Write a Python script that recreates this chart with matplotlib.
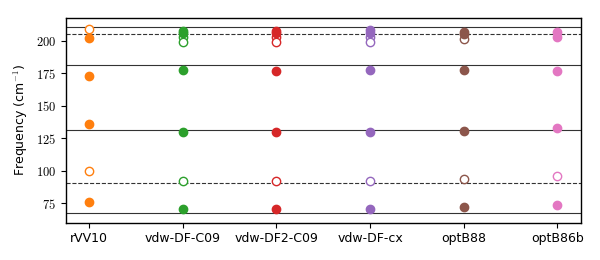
import matplotlib
matplotlib.use("Agg")
import matplotlib.pyplot as plt
from matplotlib.ticker import FuncFormatter

methods = ["rVV10", "vdw-DF-C09", "vdw-DF2-C09", "vdw-DF-cx", "optB88", "optB86b"]
colors = ["#ff7f0e", "#2ca02c", "#d62728", "#9467bd", "#8c564b", "#e377c2"]

filled_rVV10 = [202.3, 173.1, 135.7, 76.0]
filled_C09 = [207.7, 205.7, 177.2, 129.5, 70.9]
filled_DF2C09 = [207.7, 205.7, 176.9, 129.4, 70.9]
filled_cx = [208.0, 205.7, 177.2, 129.5, 70.9]
filled_optB88 = [206.9, 204.9, 177.5, 130.8, 72.0]
filled_optB86b = [207.0, 203.0, 176.7, 132.8, 73.5]

hollow_rVV10 = [208.8, 99.8]
hollow_C09 = [202.6, 198.8, 92.3]
hollow_DF2C09 = [202.6, 198.8, 92.3]
hollow_cx = [202.6, 199.2, 92.3]
hollow_optB88 = [201.3, 93.6]
hollow_optB86b = [96.2]

exp_solid = [210.3, 181.1, 131.3, 67.5]
exp_dashed = [205.4, 90.3]

filled = [filled_rVV10, filled_C09, filled_DF2C09, filled_cx, filled_optB88, filled_optB86b]
hollow = [hollow_rVV10, hollow_C09, hollow_DF2C09, hollow_cx, hollow_optB88, hollow_optB86b]

plt.rcParams['mathtext.fontset'] = 'cm'
fig = plt.figure(figsize=(6, 2.6), dpi=100)
ax = fig.add_axes([0.1095, 0.1435, 0.8585, 0.7885])

for y in exp_solid:
    ax.axhline(y, color="#333333", lw=0.8, zorder=1)
for y in exp_dashed:
    ax.axhline(y, color="#333333", lw=0.8, ls="--", zorder=1)

for i, (f, h, c) in enumerate(zip(filled, hollow, colors)):
    ax.plot([i] * len(h), h, "o", ms=6, mfc="white", mec=c, mew=1.0, ls="none", zorder=2)
    ax.plot([i] * len(f), f, "o", ms=6, color=c, ls="none", zorder=3)

ax.set_xlim(-0.25, 5.25)
ax.set_ylim(60, 217.7)
ax.set_xticks(range(len(methods)))
ax.set_xticklabels(methods, fontsize=9)
ax.set_yticks([75, 100, 125, 150, 175, 200])
ax.yaxis.set_major_formatter(FuncFormatter(lambda v, p: f"${int(v)}$"))
ax.tick_params(axis="y", labelsize=9)
ax.set_ylabel(r"Frequency (cm$^{-1}$)", fontsize=9)
for s in ax.spines.values():
    s.set_linewidth(1.0)

fig.savefig("out.png", dpi=100)
